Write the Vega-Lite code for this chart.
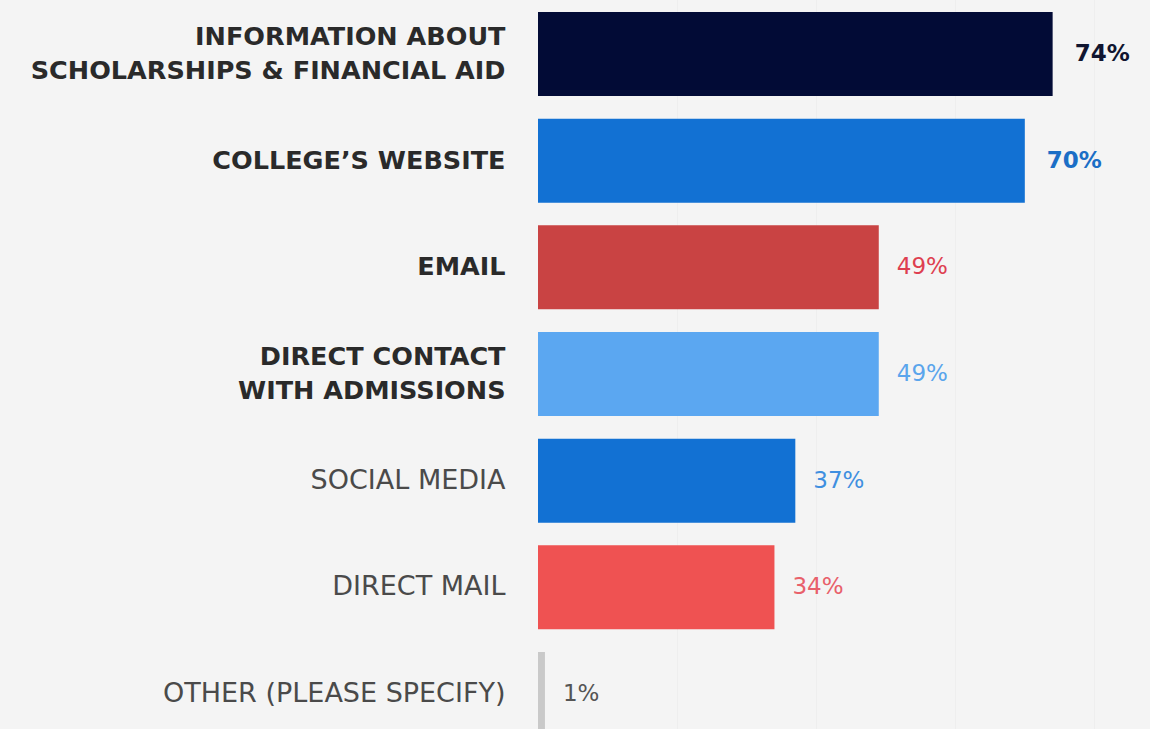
{
  "$schema": "https://vega.github.io/schema/vega-lite/v6.json",
  "width": 612,
  "height": 729,
  "autosize": {"type": "none"},
  "padding": {"left": 538, "top": 0, "right": 0, "bottom": 0},
  "background": "#f4f4f4",
  "config": {"view": {"stroke": null}, "font": "DejaVu Sans"},
  "data": {
    "values": [
      {"source": "INFORMATION ABOUT|SCHOLARSHIPS & FINANCIAL AID", "value": 0.74},
      {"source": "COLLEGE’S WEBSITE", "value": 0.70},
      {"source": "EMAIL", "value": 0.49},
      {"source": "DIRECT CONTACT|WITH ADMISSIONS", "value": 0.49},
      {"source": "SOCIAL MEDIA", "value": 0.37},
      {"source": "DIRECT MAIL", "value": 0.34},
      {"source": "OTHER (PLEASE SPECIFY)", "value": 0.01}
    ]
  },
  "encoding": {
    "y": {
      "field": "source",
      "type": "nominal",
      "sort": null,
      "scale": {"range": [0, 748], "paddingInner": 0.2125, "paddingOuter": 0.1125},
      "axis": {
        "title": null,
        "domain": false,
        "ticks": false,
        "grid": false,
        "labelPadding": 33,
        "labelLimit": 700,
        "labelLineHeight": 34,
        "labelExpr": "split(datum.value, '|')",
        "labelOffset": {"condition": {"test": "indexof(datum.value, '|') >= 0", "value": -17}, "value": 0},
        "labelFontSize": {"condition": {"test": "indexof(['SOCIAL MEDIA','DIRECT MAIL','OTHER (PLEASE SPECIFY)'], datum.value) >= 0", "value": 27}, "value": 25.5},
        "labelFontWeight": {"condition": {"test": "indexof(['SOCIAL MEDIA','DIRECT MAIL','OTHER (PLEASE SPECIFY)'], datum.value) >= 0", "value": "normal"}, "value": "bold"},
        "labelColor": {"condition": {"test": "indexof(['SOCIAL MEDIA','DIRECT MAIL','OTHER (PLEASE SPECIFY)'], datum.value) >= 0", "value": "#4a4a4a"}, "value": "#2a2a2a"}
      }
    },
    "x": {
      "field": "value",
      "type": "quantitative",
      "scale": {"domain": [0, 0.88], "nice": false},
      "axis": {
        "title": null,
        "values": [0.2, 0.4, 0.6, 0.8],
        "labels": false,
        "ticks": false,
        "domain": false,
        "grid": true,
        "gridColor": "#eeeeee",
        "gridWidth": 1
      }
    }
  },
  "layer": [
    {
      "mark": {"type": "bar"},
      "encoding": {
        "color": {
          "field": "source",
          "type": "nominal",
          "scale": {
            "domain": ["INFORMATION ABOUT|SCHOLARSHIPS & FINANCIAL AID", "COLLEGE’S WEBSITE", "EMAIL", "DIRECT CONTACT|WITH ADMISSIONS", "SOCIAL MEDIA", "DIRECT MAIL", "OTHER (PLEASE SPECIFY)"],
            "range": ["#020b36", "#1271d3", "#c94343", "#5ba7f1", "#1271d3", "#ef5252", "#c9c9c9"]
          },
          "legend": null
        }
      }
    },
    {
      "transform": [{"filter": "datum.value >= 0.7"}],
      "mark": {"type": "text", "align": "left", "baseline": "middle", "dx": 22, "fontSize": 23, "fontWeight": "bold"},
      "encoding": {
        "text": {"field": "value", "type": "quantitative", "format": ".0%"},
        "color": {
          "field": "source",
          "type": "nominal",
          "scale": {
            "domain": ["INFORMATION ABOUT|SCHOLARSHIPS & FINANCIAL AID", "COLLEGE’S WEBSITE"],
            "range": ["#101530", "#1b6ec6"]
          },
          "legend": null
        }
      }
    },
    {
      "transform": [{"filter": "datum.value < 0.7"}],
      "mark": {"type": "text", "align": "left", "baseline": "middle", "dx": 18, "fontSize": 23, "fontWeight": "normal"},
      "encoding": {
        "text": {"field": "value", "type": "quantitative", "format": ".0%"},
        "color": {
          "field": "source",
          "type": "nominal",
          "scale": {
            "domain": ["EMAIL", "DIRECT CONTACT|WITH ADMISSIONS", "SOCIAL MEDIA", "DIRECT MAIL", "OTHER (PLEASE SPECIFY)"],
            "range": ["#de3f50", "#5aa5ec", "#3f8fe0", "#e8606a", "#555555"]
          },
          "legend": null
        }
      }
    }
  ],
  "resolve": {"scale": {"color": "independent"}}
}
